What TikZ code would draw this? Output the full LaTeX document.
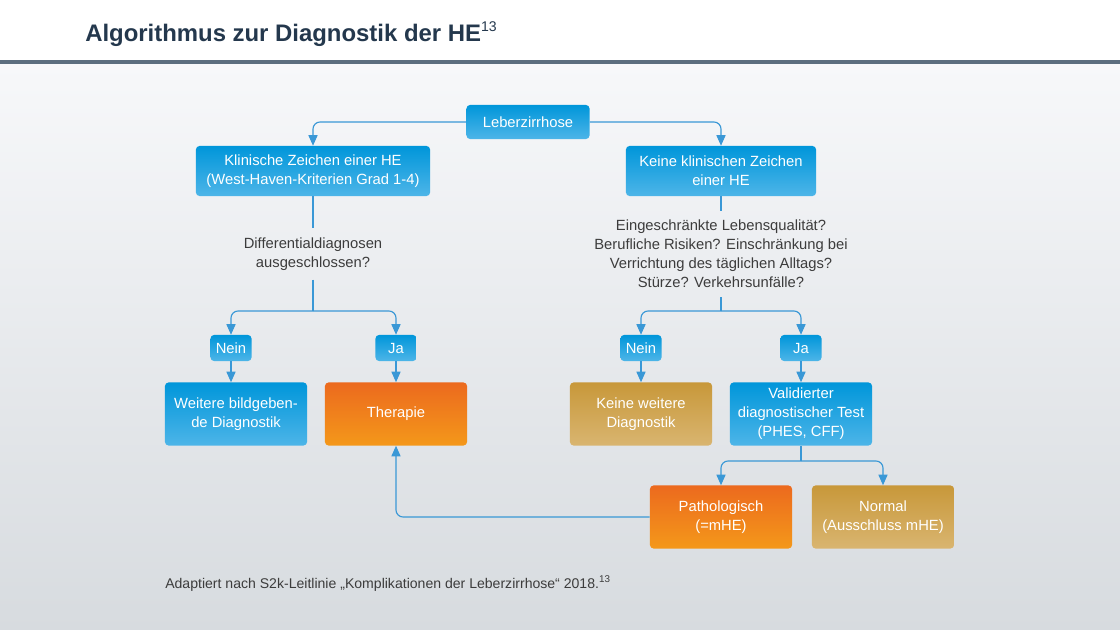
\documentclass[tikz,border=0pt]{standalone}
\usepackage{fontspec}
\setmainfont{Liberation Sans}
\usetikzlibrary{arrows.meta}

\definecolor{heTitle}{HTML}{24384D}
\definecolor{heRule}{HTML}{5C6E7F}
\definecolor{heBgTop}{HTML}{F7F8FA}
\definecolor{heBgBot}{HTML}{D7DBDF}
\definecolor{heLine}{HTML}{3A98D6}
\definecolor{heText}{HTML}{3C3C3C}
\definecolor{heBlueTop}{HTML}{0096DA}
\definecolor{heBlueBot}{HTML}{4DB5E8}
\definecolor{heOrangeTop}{HTML}{EC6A1E}
\definecolor{heOrangeBot}{HTML}{F4981A}
\definecolor{heGoldTop}{HTML}{C8983A}
\definecolor{heGoldBot}{HTML}{D9B570}

\tikzset{
  box/.style={rounded corners=2.5pt, text=white, align=center, inner sep=0pt,
    font=\fontsize{10.5}{13.6}\selectfont},
  bluebox/.style={box, top color=heBlueTop, bottom color=heBlueBot},
  orangebox/.style={box, top color=heOrangeTop, bottom color=heOrangeBot},
  goldbox/.style={box, top color=heGoldTop, bottom color=heGoldBot},
  answer/.style={bluebox, minimum width=1.025cm, minimum height=0.65cm},
  result/.style={minimum width=3.55cm, minimum height=1.575cm},
  question/.style={align=center, text=heText, inner xsep=0pt, inner ysep=0.22cm,
    font=\fontsize{10.5}{13.6}\selectfont},
  conn/.style={draw=heLine, line width=0.8pt},
  arr/.style={conn, rounded corners=5pt, -{Triangle[length=7.5pt,width=6.5pt]}}
}

\begin{document}
\begin{tikzpicture}[x=0.025cm, y=-0.025cm]
    % Page frame and background
    \useasboundingbox (0,0) rectangle (1120,630);
    \fill[white] (0,0) rectangle (1120,61);
    \fill[top color=heBgTop, bottom color=heBgBot] (0,64) rectangle (1120,630);
    \fill[heRule] (0,60) rectangle (1120,64);

    % Title
    \node[anchor=base west, inner sep=0pt, text=heTitle, font=\fontsize{17}{20}\selectfont\bfseries]
      (title) at (85,42) {Algorithmus zur Diagnostik der HE\raisebox{0.42em}{\mdseries\fontsize{10}{10}\selectfont 13}};

    % Top level
    \node[bluebox, minimum width=3.075cm, minimum height=0.85cm] (leber) at (528,122) {Leberzirrhose};
    \node[bluebox, minimum width=5.85cm, minimum height=1.25cm] (klin) at (313,171)
      {Klinische Zeichen einer HE\\(West-Haven-Kriterien Grad 1-4)};
    \node[bluebox, minimum width=4.75cm, minimum height=1.25cm] (keine) at (721,171)
      {Keine klinischen Zeichen\\einer HE};

    % Questions
    \node[question] (diffq) at (313,254) {Differentialdiagnosen\\ausgeschlossen?};
    \node[question] (lebq) at (721,254)
      {Eingeschränkte Lebensqualität?\\Berufliche Risiken? Einschränkung bei\\Verrichtung des täglichen Alltags?\\Stürze? Verkehrsunfälle?};

    % Branch points
    \coordinate (forkl) at (313,311);
    \coordinate (forkr) at (721,311);

    % Answers
    \node[answer] (neinl) at (231,348) {Nein};
    \node[answer] (jal) at (396,348) {Ja};
    \node[answer] (neinr) at (641,348) {Nein};
    \node[answer] (jar) at (801,348) {Ja};

    % Results
    \node[bluebox, result] (weitere) at (236,414) {Weitere bildgeben-\\de Diagnostik};
    \node[orangebox, result] (therapie) at (396,414) {Therapie};
    \node[goldbox, result] (keinew) at (641,414) {Keine weitere\\Diagnostik};
    \node[bluebox, result] (test) at (801,414) {Validierter\\diagnostischer Test\\(PHES, CFF)};

    \coordinate (forkt) at (801,461);
    \node[orangebox, result] (patho) at (721,517) {Pathologisch\\(=mHE)};
    \node[goldbox, result] (normal) at (883,517) {Normal\\(Ausschluss mHE)};

    % Connectors
    \draw[arr] (leber.west) -| (klin.north);
    \draw[arr] (leber.east) -| (keine.north);
    \draw[conn] (klin.south) -- (diffq.north);
    \draw[conn] (keine.south) -- (lebq.north);
    \draw[conn] (diffq.south) -- (forkl);
    \draw[conn] (lebq.south) -- (forkr);
    \draw[arr] (forkl) -| (neinl.north);
    \draw[arr] (forkl) -| (jal.north);
    \draw[arr] (forkr) -| (neinr.north);
    \draw[arr] (forkr) -| (jar.north);
    \draw[arr] (neinl.south) -- (neinl.south |- weitere.north);
    \draw[arr] (jal) -- (therapie);
    \draw[arr] (neinr) -- (keinew);
    \draw[arr] (jar) -- (test);
    \draw[conn] (test.south) -- (forkt);
    \draw[arr] (forkt) -| (patho.north);
    \draw[arr] (forkt) -| (normal.north);
    \draw[arr] (patho.west) -| (therapie.south);

    % Source
    \node[anchor=base west, inner sep=0pt, text=heText, font=\fontsize{10}{12}\selectfont]
      (source) at (165,588) {Adaptiert nach S2k-Leitlinie „Komplikationen der Leberzirrhose“ 2018.\textsuperscript{13}};
\end{tikzpicture}
\end{document}
